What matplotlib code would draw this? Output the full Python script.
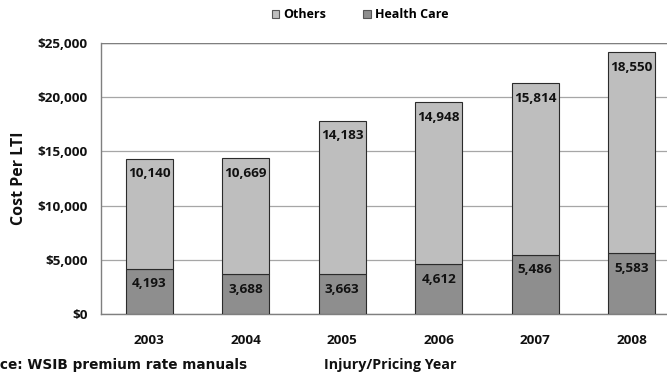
import matplotlib
matplotlib.use("Agg")
import matplotlib.pyplot as plt
from matplotlib.patches import Patch
from matplotlib.ticker import FuncFormatter

years = ["2003", "2004", "2005", "2006", "2007", "2008"]
health_care = [4193, 3688, 3663, 4612, 5486, 5583]
others = [10140, 10669, 14183, 14948, 15814, 18550]

plt.rcParams["font.family"] = ["Open Sans", "DejaVu Sans"]
plt.rcParams["font.weight"] = "bold"

c_others = "#bebebe"
c_health = "#8e8e8e"
edge = "#2b2b2b"
txt = "#111111"
fs = 9.7

fig = plt.figure(figsize=(6.67, 3.72), dpi=100)
ax = fig.add_axes([101 / 667, 1 - 314 / 372, 579 / 667, (314 - 43) / 372])

x = list(range(len(years)))
w = 0.487
ax.bar(x, health_care, width=w, color=c_health, edgecolor=edge, linewidth=0.8, zorder=3)
ax.bar(x, others, width=w, bottom=health_care, color=c_others, edgecolor=edge,
       linewidth=0.8, zorder=3)

# value labels just inside the top of each segment
for i in x:
    ax.annotate(f"{health_care[i]:,}", (i, health_care[i]), xytext=(0, -11),
                textcoords="offset points", ha="center", va="center",
                fontsize=fs, fontweight="bold", color=txt, zorder=4)
    ax.annotate(f"{others[i]:,}", (i, health_care[i] + others[i]), xytext=(0, -11),
                textcoords="offset points", ha="center", va="center",
                fontsize=fs, fontweight="bold", color=txt, zorder=4)

ax.set_xlim(-0.5, 5.5)
ax.set_ylim(0, 25000)
ax.set_yticks(range(0, 25001, 5000))
ax.yaxis.set_major_formatter(FuncFormatter(lambda v, p: f"${int(v):,}"))
ax.set_xticks(x)
ax.set_xticklabels(years)
ax.tick_params(axis="both", length=0, labelsize=fs, colors=txt)
ax.tick_params(axis="x", pad=14.5)
ax.tick_params(axis="y", pad=9.5)
for lbl in ax.get_xticklabels() + ax.get_yticklabels():
    lbl.set_fontweight("bold")

ax.grid(axis="y", color="#a6a6a6", linewidth=0.9, zorder=0)
ax.set_axisbelow(True)
for s in ["top", "right"]:
    ax.spines[s].set_visible(False)
for s in ["left", "bottom"]:
    ax.spines[s].set_color("#7f7f7f")
    ax.spines[s].set_linewidth(1.0)
ax.axhline(25000, color="#7f7f7f", linewidth=1.0, zorder=1)

fig.text(19 / 667, 1 - 178 / 372, "Cost Per LTI", rotation=90, ha="center", va="center",
         fontsize=11.5, fontweight="bold", color=txt)
fig.text(390 / 667, 1 - 365 / 372, "Injury/Pricing Year", ha="center", va="center",
         fontsize=10.3, fontweight="bold", color=txt)
fig.text(247 / 667, 1 - 365 / 372, "Source: WSIB premium rate manuals", ha="right",
         va="center", fontsize=9.8, fontweight="bold", color=txt,
         family=["DejaVu Sans"])

handles = [Patch(facecolor=c_others, edgecolor="#555555", linewidth=0.8),
           Patch(facecolor=c_health, edgecolor="#555555", linewidth=0.8)]
fig.legend(handles, ["Others", "Health Care"], loc="center",
           bbox_to_anchor=(360 / 667, 1 - 15 / 372),
           ncol=2, frameon=False, handlelength=0.6, handleheight=0.6,
           handletextpad=0.3, columnspacing=3.0,
           prop={"weight": "bold", "size": 9, "family": ["Open Sans", "DejaVu Sans"]})

fig.savefig("out.png", dpi=100, facecolor="white")
